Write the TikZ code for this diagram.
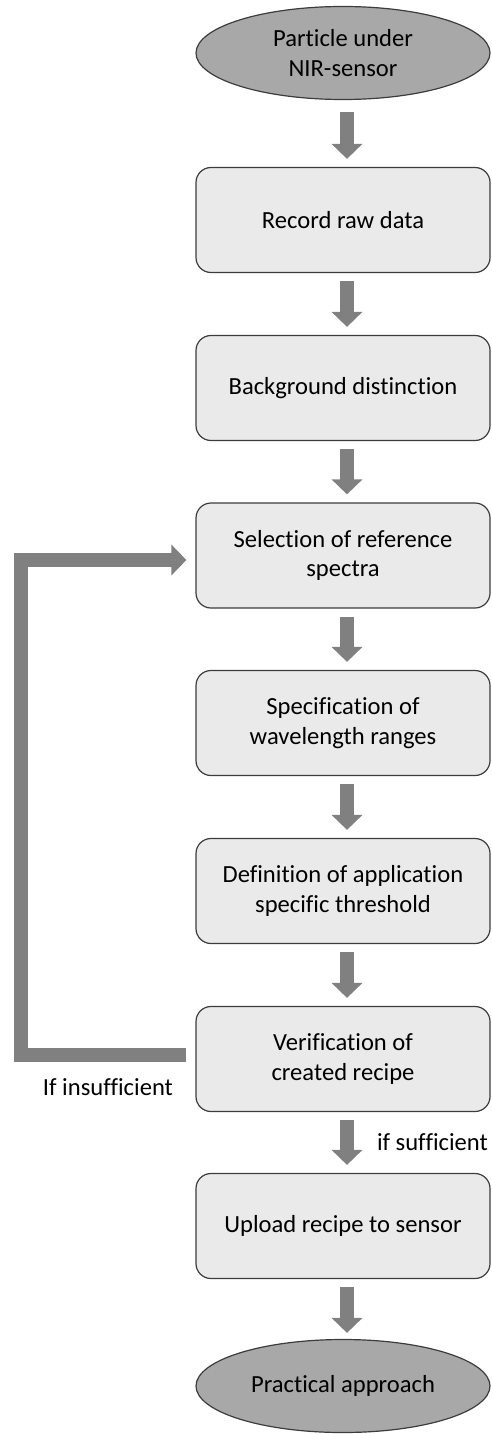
\documentclass[tikz,border=0pt]{standalone}
\usepackage{fontspec}
\setmainfont{Carlito}[Ligatures=NoCommon]
\usetikzlibrary{shapes.geometric,arrows.meta}
\definecolor{boxfill}{HTML}{EAEAEA}
\definecolor{ovalfill}{HTML}{A8A8A8}
\definecolor{edge}{HTML}{3C3C3C}
\definecolor{flowgray}{HTML}{808080}
\tikzset{
  stepbox/.style={draw=edge, line width=1.2pt, fill=boxfill, rounded corners=15pt,
    minimum width=294pt, minimum height=105pt, align=center, inner sep=0pt,
    font=\fontsize{24.6}{29.3}\selectfont},
  terminal/.style={ellipse, draw=edge, line width=1.2pt, fill=ovalfill,
    minimum width=294pt, minimum height=93pt, align=center, inner sep=0pt,
    font=\fontsize{24.6}{29.3}\selectfont},
  flow/.style={draw=flowgray, line width=14pt,
    -{Triangle[length=15pt,width=30pt]}, shorten <=8pt, shorten >=8pt},
  backflow/.style={draw=flowgray, line width=14pt, line join=miter,
    -{Triangle[length=15pt,width=30pt]}},
  lbl/.style={font=\fontsize{24.6}{29.3}\selectfont, inner sep=0pt}
}
\begin{document}
\begin{tikzpicture}[x=1pt,y=-1pt]
\useasboundingbox (0,0) rectangle (491,1434);

\node[terminal] (start) at (343,53) {Particle under\\NIR-sensor};
\node[stepbox] (raw)  at (343,220)   {Record raw data};
\node[stepbox] (bg)   at (343,388)   {Background distinction};
\node[stepbox] (sel)  at (343,555.5) {Selection of reference\\spectra};
\node[stepbox] (spec) at (343,723)   {Specification of\\wavelength ranges};
\node[stepbox] (def)  at (343,891)   {Definition of application\\specific threshold};
\node[stepbox] (ver)  at (343,1059)  {Verification of\\created recipe};
\node[stepbox] (up)   at (343,1226)  {Upload recipe to sensor};
\node[terminal] (end) at (343,1386)  {Practical approach};

\draw[flow, shorten <=12pt] ([xshift=4pt]start.south) -- ([xshift=4pt]raw.north);
\draw[flow] ([xshift=4pt]raw.south)  -- ([xshift=4pt]bg.north);
\draw[flow] ([xshift=4pt]bg.south)   -- ([xshift=4pt]sel.north);
\draw[flow] ([xshift=4pt]sel.south)  -- ([xshift=4pt]spec.north);
\draw[flow] ([xshift=4pt]spec.south) -- ([xshift=4pt]def.north);
\draw[flow] ([xshift=4pt]def.south)  -- ([xshift=4pt]ver.north);
\draw[flow] ([xshift=4pt]ver.south)  -- ([xshift=4pt]up.north)
  node[lbl, midway, right=23pt] (suf) {if sufficient};
\draw[flow, shorten >=6pt] ([xshift=4pt]up.south) -- ([xshift=4pt]end.north);

% feedback loop back to the reference selection
\coordinate (loopx) at (20.5,560);
\draw[backflow] ([xshift=-9pt,yshift=4pt]ver.west) -| (loopx)
  -- ([xshift=-9pt,yshift=-4.5pt]sel.west);
\node[lbl] (insuf) at (108,1087) {If insufficient};
\end{tikzpicture}
\end{document}
